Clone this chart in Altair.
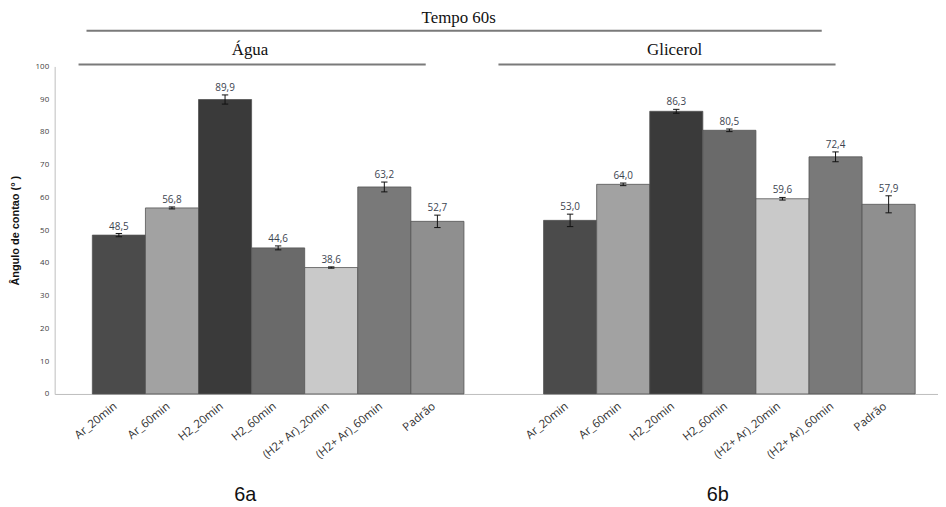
import altair as alt
import pandas as pd

# ---------------- data ----------------
categories = ["Ar_20min", "Ar_60min", "H2_20min", "H2_60min",
              "(H2+ Ar)_20min", "(H2+ Ar)_60min", "Padrão"]
groups = ["Água", "Glicerol"]
agua_values = [48.5, 56.8, 89.9, 44.6, 38.6, 63.2, 52.7]
agua_errors = [0.5, 0.3, 1.4, 0.6, 0.2, 1.5, 1.9]
glicerol_values = [53.0, 64.0, 86.3, 80.5, 59.6, 72.4, 57.9]
glicerol_errors = [1.9, 0.4, 0.6, 0.4, 0.4, 1.5, 2.6]
y_ticks = [0, 10, 20, 30, 40, 50, 60, 70, 80, 90, 100]
header_texts = ["Tempo 60s", "Água", "Glicerol"]
panel_tags = ["6a", "6b"]

# ---------------- styles / layout ----------------
bar_colors = ["#4b4b4b", "#a2a2a2", "#3a3a3a", "#6a6a6a",
              "#c9c9c9", "#797979", "#8f8f8f"]
group_offset = {"Água": 0.0, "Glicerol": 8.5}
cap_half = 0.06

rows = []
for g, vals, errs in [("Água", agua_values, agua_errors),
                      ("Glicerol", glicerol_values, glicerol_errors)]:
    for i, (c, v, e) in enumerate(zip(categories, vals, errs)):
        p = i + group_offset[g]
        rows.append(dict(group=g, cat=c, pos=p, left=p - 0.5, right=p + 0.5,
                         val=v, lo=v - e, hi=v + e,
                         capl=p - cap_half, capr=p + cap_half,
                         label=f"{v:.1f}".replace(".", ",")))
df = pd.DataFrame(rows)

# header annotations (x in bar units, y in pixels relative to plot top)
headers = pd.DataFrame(dict(
    text=header_texts,
    tx=[6.4, 2.47, 10.47],
    ty=[-44, -12, -12],
    x1=[-0.61, -0.76, 7.15],
    x2=[13.24, 5.78, 13.5],
    ry=[-36, -2, -2],
))
tags = pd.DataFrame(dict(text=panel_tags, tx=[2.38, 11.28], ty=[438, 438]))

xs = alt.Scale(domain=[-1.21, 15.43], nice=False, zero=False)
ys = alt.Scale(domain=[0, 100], nice=False)

x_axis = alt.Axis(labels=False, ticks=False, grid=False,
                  domainColor="#bdbdbd", title=None)
y_axis = alt.Axis(values=y_ticks, grid=False, ticks=False,
                  domainColor="#bdbdbd", labelFontSize=8,
                  labelColor="#404040", labelPadding=6,
                  labelOverlap=False, labelFont="Open Sans",
                  title="Ângulo de contao (° )", titleFontSize=11,
                  titleFontWeight="bold", titleColor="#111111",
                  titleFont="Liberation Sans",
                  titleX=-39, titleY=165, titleAngle=270,
                  titleAlign="center", titleBaseline="middle")

base = alt.Chart(df)

bars = base.mark_bar(stroke="#555555", strokeWidth=0.8).encode(
    x=alt.X("left:Q", scale=xs, axis=x_axis),
    x2="right:Q",
    y=alt.Y("val:Q", scale=ys, axis=y_axis),
    y2=alt.datum(0),
    color=alt.Color("cat:N", scale=alt.Scale(domain=categories, range=bar_colors),
                    legend=None),
)

err = base.mark_rule(color="#111111", strokeWidth=1).encode(
    x=alt.X("pos:Q", scale=xs, axis=x_axis),
    y=alt.Y("lo:Q", scale=ys, axis=y_axis), y2="hi:Q")
cap_hi = base.mark_rule(color="#111111", strokeWidth=1).encode(
    x=alt.X("capl:Q", scale=xs, axis=x_axis), x2="capr:Q",
    y=alt.Y("hi:Q", scale=ys, axis=y_axis))
cap_lo = base.mark_rule(color="#111111", strokeWidth=1).encode(
    x=alt.X("capl:Q", scale=xs, axis=x_axis), x2="capr:Q",
    y=alt.Y("lo:Q", scale=ys, axis=y_axis))

val_labels = base.mark_text(baseline="alphabetic", dy=-4, fontSize=10,
                            color="#3c4450", font="Open Sans").encode(
    x=alt.X("pos:Q", scale=xs, axis=x_axis),
    y=alt.Y("hi:Q", scale=ys, axis=y_axis), text="label:N")

x_labels = base.mark_text(angle=321, align="right", baseline="middle",
                          fontSize=11.5, color="#333333", font="Open Sans",
                          dx=-4).encode(
    x=alt.X("pos:Q", scale=xs, axis=x_axis), y=alt.value(339), text="cat:N")

hdr = alt.Chart(headers)
hdr_text = hdr.mark_text(baseline="alphabetic", align="center",
                         font="Liberation Serif", fontSize=17, color="#111111").encode(
    x=alt.X("tx:Q", scale=xs, axis=x_axis),
    y=alt.Y("ty:Q", scale=None), text="text:N")
hdr_rule = hdr.mark_rule(color="#7a7a7a", strokeWidth=2).encode(
    x=alt.X("x1:Q", scale=xs, axis=x_axis), x2="x2:Q",
    y=alt.Y("ry:Q", scale=None))

tag_text = alt.Chart(tags).mark_text(baseline="alphabetic", align="center",
                                     font="Liberation Sans", fontSize=20,
                                     color="#111111").encode(
    x=alt.X("tx:Q", scale=xs, axis=x_axis),
    y=alt.Y("ty:Q", scale=None), text="text:N")

chart = alt.layer(bars, err, cap_hi, cap_lo, val_labels, x_labels,
                  hdr_rule, hdr_text, tag_text).properties(
    width=890, height=330,
    autosize=alt.AutoSizeParams(type="none"),
    padding={"left": 47, "top": 57, "right": 0, "bottom": 110},
).configure_view(stroke=None)

chart.save("out.html", embed_options={"renderer": "svg", "actions": False})
